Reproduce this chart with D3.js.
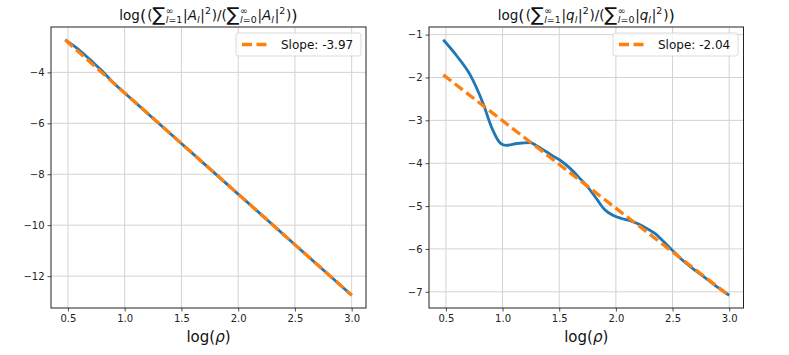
<!DOCTYPE html>
<html lang="en">
<head>
<meta charset="utf-8">
<title>log ratio vs log rho</title>
<style>
  body { margin: 0; background: #fff; }
  text { font-family: "DejaVu Sans", sans-serif; }
</style>
</head>
<body>
<div id="wrapper"></div>
<script src="https://cdn.jsdelivr.net/npm/d3@7"></script>
<script>
// --- data ---
const leftX = [0.477, 0.55, 0.6, 0.65, 0.7, 0.75, 0.8, 0.9, 1.0, 1.5, 2.0, 2.5, 3.0]
const leftY = [-2.72, -2.95, -3.12, -3.32, -3.52, -3.73, -3.94, -4.41, -4.81, -6.795, -8.78, -10.765, -12.75]
const leftFitX = [0.477, 3.0]
const leftFitY = [-2.73, -12.75]
const leftSlope = -3.97

const rightX = [0.477, 0.6, 0.714, 0.83, 0.906, 0.98, 1.03, 1.13, 1.243, 1.3, 1.449, 1.508, 1.596, 1.684, 1.75, 1.83, 1.9, 1.978, 2.05, 2.125, 2.2, 2.272, 2.35, 2.419, 2.49, 2.566, 2.67, 2.772, 2.88, 3.0]
const rightY = [-1.12, -1.51, -1.94, -2.62, -3.18, -3.53, -3.585, -3.54, -3.52, -3.59, -3.84, -3.93, -4.12, -4.36, -4.55, -4.83, -5.08, -5.22, -5.29, -5.34, -5.42, -5.52, -5.65, -5.82, -6.01, -6.21, -6.44, -6.64, -6.86, -7.08]
const rightFitX = [0.477, 3.0]
const rightFitY = [-1.94, -7.09]
const rightSlope = -2.04

const xTicks = [0.5, 1.0, 1.5, 2.0, 2.5, 3.0]
const leftYTicks = [-12, -10, -8, -6, -4]
const rightYTicks = [-7, -6, -5, -4, -3, -2, -1]

const blue = "#1f77b4"
const orange = "#ff7f0e"

const svg = d3.select("#wrapper").append("svg")
    .attr("width", 789)
    .attr("height", 355)

// pad like matplotlib auto-limits (5% each side)
function padded(vals) {
    const [a, b] = d3.extent(vals)
    const m = (b - a) * 0.05
    return [a - m, b + m]
}

// small mathtext-ish layout: pieces are runs of [text, italic]
function addRuns(g, x, y, runs, size) {
    const t = g.append("text")
        .attr("x", x)
        .attr("y", y)
        .style("font-size", size + "px")
        .attr("fill", "#111")
    runs.forEach(r => {
        t.append("tspan")
            .style("font-style", r[1] ? "italic" : "normal")
            .text(r[0])
    })
    return t
}

function mathTitle(cx, baseline, parts, size) {
    const g = svg.append("g")
    let x = 0
    parts.forEach(p => {
        if (p.sub || p.sup) {
            let w = 0
            if (p.sub) {
                const t = addRuns(g, x, baseline + size * 0.28, p.sub, size * 0.7)
                w = Math.max(w, t.node().getComputedTextLength())
            }
            if (p.sup) {
                const t = addRuns(g, x, baseline - size * 0.42, p.sup, size * 0.7)
                w = Math.max(w, t.node().getComputedTextLength())
            }
            x += w + 0.8
        } else {
            const t = addRuns(g, x, baseline + (p.dy || 0), p.runs, size * (p.scale || 1))
            x += t.node().getComputedTextLength() + (p.pad || 0)
        }
    })
    g.attr("transform", `translate(${cx - x / 2},0)`)
}

function titleParts(letter) {
    const half = l => [
        {runs: [["∑", 0]], scale: 1.4, dy: 1.5, pad: 0.5},
        {sub: [["l", 1], ["=", 0], [l, 0]], sup: [["∞", 0]]},
        {runs: [["|", 0]]},
        {runs: [[letter, 1]]},
        {sub: [["l", 1]]},
        {runs: [["|", 0]]},
        {sup: [["2", 0]]},
        {runs: [[")", 0]]}
    ]
    return [
        {runs: [["log", 0]]},
        {runs: [["(", 0]], scale: 1.2, dy: 1, pad: 1},
        {runs: [["(", 0]]},
        ...half("1"),
        {runs: [["/", 0]]},
        {runs: [["(", 0]]},
        ...half("0"),
        {runs: [[")", 0]], scale: 1.2, dy: 1, pad: 0}
    ]
}

function drawPanel(opts) {
    const {left, right, xs, ys, fitX, fitY, slope, yTicks, letter, legendRight} = opts
    const top = 27, bottom = 308

    const x = d3.scaleLinear().domain(padded(xs)).range([left, right])
    const y = d3.scaleLinear().domain(padded(ys)).range([bottom, top])

    const g = svg.append("g")

    // grid
    g.selectAll(".gx").data(xTicks).join("line")
        .attr("x1", d => x(d)).attr("x2", d => x(d))
        .attr("y1", top).attr("y2", bottom)
        .attr("stroke", "#d3d3d3").attr("stroke-width", 1)
    g.selectAll(".gy").data(yTicks).join("line")
        .attr("y1", d => y(d)).attr("y2", d => y(d))
        .attr("x1", left).attr("x2", right)
        .attr("stroke", "#d3d3d3").attr("stroke-width", 1)

    // data
    const line = d3.line().x(d => x(d[0])).y(d => y(d[1])).curve(d3.curveMonotoneX)
    g.append("path")
        .attr("d", line(d3.zip(xs, ys)))
        .attr("fill", "none")
        .attr("stroke", blue)
        .attr("stroke-width", 2.8)
        .attr("stroke-linejoin", "round")

    g.append("path")
        .attr("d", d3.line().x(d => x(d[0])).y(d => y(d[1]))(d3.zip(fitX, fitY)))
        .attr("fill", "none")
        .attr("stroke", orange)
        .attr("stroke-width", 3.3)
        .attr("stroke-dasharray", "10,4.5")

    // axes
    const xAxis = g.append("g")
        .attr("transform", `translate(0,${bottom})`)
        .call(d3.axisBottom(x).tickValues(xTicks).tickFormat(d3.format(".1f")).tickSizeInner(3.5).tickSizeOuter(0).tickPadding(3))
    const yAxis = g.append("g")
        .attr("transform", `translate(${left},0)`)
        .call(d3.axisLeft(y).tickValues(yTicks).tickFormat(d3.format("d")).tickSizeInner(3.5).tickSizeOuter(0).tickPadding(3))
    ;[xAxis, yAxis].forEach(a => {
        a.select(".domain").remove()
        a.selectAll(".tick line").attr("stroke", "#222").attr("stroke-width", 0.8)
        a.selectAll(".tick text")
            .attr("fill", "#222")
            .style("font-size", "10px")
            .style("font-family", "DejaVu Sans")
    })

    // frame
    g.append("rect")
        .attr("x", left).attr("y", top)
        .attr("width", right - left).attr("height", bottom - top)
        .attr("fill", "none")
        .attr("stroke", "#222")
        .attr("stroke-width", 1)

    // x label
    const xl = g.append("text")
        .attr("x", (left + right) / 2)
        .attr("y", 342)
        .attr("text-anchor", "middle")
        .style("font-size", "15px")
        .attr("fill", "#111")
    xl.append("tspan").text("log(")
    xl.append("tspan").style("font-style", "italic").text("ρ")
    xl.append("tspan").text(")")

    // legend
    const legendTop = 33, legendH = 23, legendW = 125
    const lx = legendRight - legendW
    const leg = g.append("g")
    leg.append("rect")
        .attr("x", lx).attr("y", legendTop)
        .attr("width", legendW).attr("height", legendH)
        .attr("rx", 2.5)
        .attr("fill", "white").attr("fill-opacity", 0.8)
        .attr("stroke", "#d0d0d0").attr("stroke-width", 0.8)
    leg.append("line")
        .attr("x1", lx + 6).attr("x2", lx + 34)
        .attr("y1", legendTop + legendH / 2).attr("y2", legendTop + legendH / 2)
        .attr("stroke", orange)
        .attr("stroke-width", 3.3)
        .attr("stroke-dasharray", "10,4.5")
    leg.append("text")
        .attr("x", lx + 45)
        .attr("y", legendTop + legendH / 2 + 4.3)
        .style("font-size", "12px")
        .attr("fill", "#111")
        .text(`Slope: ${slope.toFixed(2)}`)

    mathTitle((left + right) / 2, 19.5, titleParts(letter), 13.5)
}

drawPanel({left: 51, right: 366, xs: leftX, ys: leftY, fitX: leftFitX, fitY: leftFitY,
    slope: leftSlope, yTicks: leftYTicks, letter: "A", legendRight: 361})
drawPanel({left: 429, right: 743.5, xs: rightX, ys: rightY, fitX: rightFitX, fitY: rightFitY,
    slope: rightSlope, yTicks: rightYTicks, letter: "q", legendRight: 738})
</script>
</body>
</html>
